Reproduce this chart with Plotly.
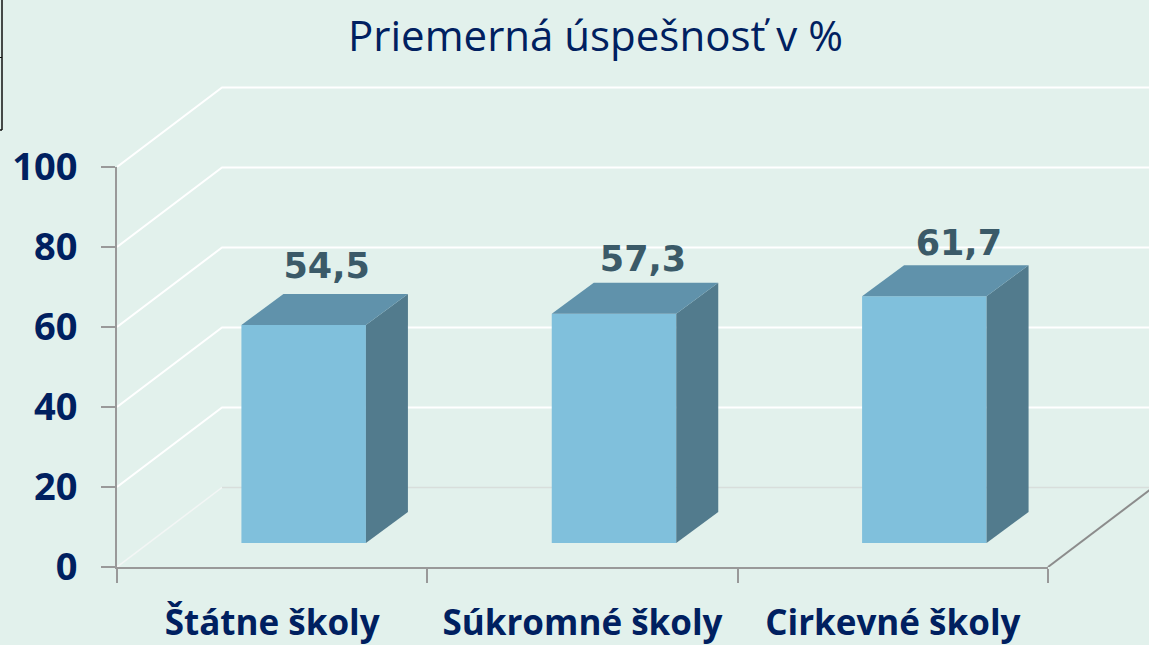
import plotly.graph_objects as go

TITLE = "Priemerná úspešnosť v %"
CATEGORIES = ["Štátne školy", "Súkromné školy", "Cirkevné školy"]
CATEGORY_POS = [0, 1, 2]
VALUES = [54.5, 57.3, 61.7]
VALUE_LABELS = ["54,5", "57,3", "61,7"]
Y_TICKS = [0, 20, 40, 60, 80, 100]

BG = "#e2f1ec"
NAVY = "#002060"
LABEL_COLOR = "#3b5a68"
FRONT = "#80c0dc"
TOP = "#6092ab"
SIDE = "#527b8d"
AXIS = "#999999"

# projection constants of the fake 3-D box
W = 1149
H = 645
PX_X = 310.33   # pixels per category
PX_Y = 4.0      # pixels per unit
WALL_DX = 105 / PX_X
WALL_DY = 79.5 / PX_Y
BAR_SHIFT = 31.5 / PX_X
BAR_LIFT = 24 / PX_Y
BAR_W = 124.5 / PX_X
BAR_DX = 42 / PX_X
BAR_DY = 31 / PX_Y
LABEL_NUDGE_X = [54.5 / PX_X, 60.5 / PX_X, 66 / PX_X]
LABEL_NUDGE_Y = [56 / PX_Y, 52 / PX_Y, 50 / PX_Y]

XMIN, XMAX = -0.5, 2.5
YMIN, YMAX = 0, 100
LEFT_PX, RIGHT_PX, BASE_PX = 117, 1048, 567

fig = go.Figure()


def wall_line(xs, ys, color, width=2.0):
    fig.add_trace(go.Scatter(x=xs, y=ys, mode="lines",
                             line=dict(color=color, width=width),
                             xaxis="x", yaxis="y",
                             hoverinfo="skip", showlegend=False))


WALL_END = XMAX + 2 * WALL_DX
# walls: grid lines on left wall and back wall, in a hidden larger subplot of the same scale
for v in Y_TICKS[1:]:
    wall_line([XMIN, XMIN + WALL_DX, WALL_END],
              [v, v + WALL_DY, v + WALL_DY], "#ffffff")
wall_line([XMIN, XMIN + WALL_DX], [0, WALL_DY], "#f3f6f5", 1.5)
wall_line([XMIN + WALL_DX, WALL_END], [WALL_DY, WALL_DY], "#d8dedb", 1.5)
wall_line([XMAX, XMAX + WALL_DX], [0, WALL_DY], "#8c8c8c", 2)

# bars: front faces
fig.add_trace(go.Bar(x=[c + BAR_SHIFT for c in CATEGORY_POS], y=VALUES,
                     base=BAR_LIFT, width=BAR_W, marker=dict(color=FRONT, line=dict(width=0)),
                     xaxis="x2", yaxis="y2", showlegend=False, hoverinfo="skip"))

# bars: side and top faces
for c, v in zip(CATEGORY_POS, VALUES):
    left = c + BAR_SHIFT - BAR_W / 2
    right = c + BAR_SHIFT + BAR_W / 2
    bottom = BAR_LIFT
    top = BAR_LIFT + v
    fig.add_trace(go.Scatter(
        x=[right, right + BAR_DX, right + BAR_DX, right, right],
        y=[bottom, bottom + BAR_DY, top + BAR_DY, top, bottom],
        mode="lines", fill="toself", fillcolor=SIDE, line=dict(width=0),
        xaxis="x2", yaxis="y2", showlegend=False, hoverinfo="skip"))
    fig.add_trace(go.Scatter(
        x=[left, right, right + BAR_DX, left + BAR_DX, left],
        y=[top, top, top + BAR_DY, top + BAR_DY, top],
        mode="lines", fill="toself", fillcolor=TOP, line=dict(width=0),
        xaxis="x2", yaxis="y2", showlegend=False, hoverinfo="skip"))

# value labels
fig.add_trace(go.Scatter(
    x=[c + n for c, n in zip(CATEGORY_POS, LABEL_NUDGE_X)],
    y=[v + BAR_LIFT + n for v, n in zip(VALUES, LABEL_NUDGE_Y)],
    mode="text", text=VALUE_LABELS, textposition="middle center", cliponaxis=False,
    textfont=dict(family="DejaVu Sans", size=35, color=LABEL_COLOR, weight="bold"),
    xaxis="x2", yaxis="y2", showlegend=False, hoverinfo="skip"))

x_domain = [LEFT_PX / W, RIGHT_PX / W]
y_domain = [1 - BASE_PX / H, 1 - (BASE_PX - 100 * PX_Y) / H]

fig.update_layout(
    width=W, height=H,
    margin=dict(l=0, r=0, t=0, b=0),
    paper_bgcolor=BG, plot_bgcolor="rgba(0,0,0,0)",
    showlegend=False,
    barmode="overlay",
    title=dict(text=TITLE, x=595.5 / W, xanchor="center", y=1 - 36 / H, yanchor="middle",
               font=dict(family="Open Sans", size=42, color=NAVY)),
    # hidden wall subplot: same scale, reaches the page's right and top edges
    xaxis=dict(domain=[LEFT_PX / W, 1], range=[XMIN, XMIN + (W - LEFT_PX) / PX_X],
               visible=False, anchor="y"),
    yaxis=dict(domain=[1 - BASE_PX / H, 1], range=[0, BASE_PX / PX_Y],
               visible=False, anchor="x"),
    # visible axes with the bars
    xaxis2=dict(domain=x_domain, range=[XMIN, XMAX], anchor="y2", automargin=False,
                tickmode="array", tickvals=CATEGORY_POS, ticktext=CATEGORIES, ticks="",
                showgrid=False, zeroline=False, showline=True, linecolor=AXIS, linewidth=2,
                ticklabelstandoff=24,
                tickfont=dict(family="Open Sans", size=35, color=NAVY, weight="bold"),
                minor=dict(ticks="outside", ticklen=14, tickwidth=1.5, tickcolor=AXIS,
                           tickmode="array", tickvals=[-0.5, 0.5, 1.5, 2.5], showgrid=False)),
    yaxis2=dict(domain=y_domain, range=[YMIN, YMAX], anchor="x2", automargin=False,
                tickmode="array", tickvals=Y_TICKS, ticks="outside", ticklen=14,
                tickwidth=1.5, tickcolor=AXIS,
                showgrid=False, zeroline=False, showline=True, linecolor=AXIS, linewidth=2,
                ticklabelstandoff=16,
                tickfont=dict(family="Open Sans", size=38, color=NAVY, weight="bold")),
    shapes=[
        dict(type="line", xref="paper", yref="paper", x0=2 / W, x1=2 / W, y0=1, y1=1 - 130 / H,
             line=dict(color="#111111", width=1.5)),
        dict(type="line", xref="paper", yref="paper", x0=0, x1=2 / W, y0=1 - 57.5 / H, y1=1 - 57.5 / H,
             line=dict(color="#111111", width=1)),
        dict(type="line", xref="paper", yref="paper", x0=0, x1=2 / W, y0=1 - 130 / H, y1=1 - 130 / H,
             line=dict(color="#111111", width=1.5)),
    ],
)

fig.write_html("out.html", config=dict(displayModeBar=False),
               post_script="document.body.style.margin='0';document.body.style.overflow='hidden';")
